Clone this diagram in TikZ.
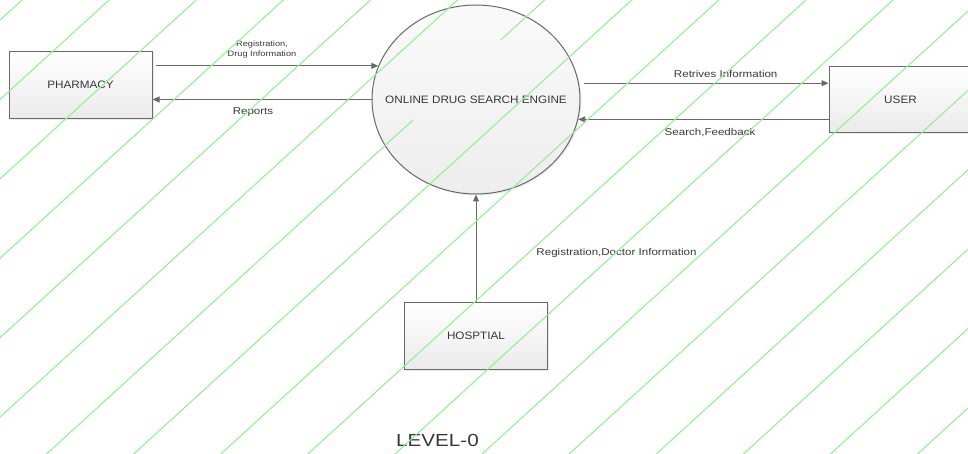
\documentclass[tikz,border=0pt]{standalone}
\usepackage{fontspec}
\setmainfont{Liberation Sans}[FakeStretch=1.18]
\newfontfamily\boxfont{Liberation Sans}[FakeStretch=1.09]
\usetikzlibrary{arrows.meta,shapes.geometric,shadows}
\definecolor{hatch}{RGB}{150,238,150}
\definecolor{edge}{RGB}{105,105,105}
\definecolor{txt}{RGB}{55,55,55}
\begin{document}
\begin{tikzpicture}[x=1pt,y=-1pt,
  entity/.style={draw=edge, line width=1pt, top color=white, bottom color=black!8,
    minimum width=143pt, minimum height=66.7pt, inner sep=0pt,
    font=\boxfont\fontsize{10.75}{12}\selectfont, text=txt,
    drop shadow={shadow xshift=1.5pt, shadow yshift=-1.5pt, fill=black!15}},
  process/.style={ellipse, draw=edge, line width=1pt, top color=black!2, bottom color=black!7,
    minimum width=208pt, minimum height=189pt, inner sep=0pt,
    drop shadow={shadow xshift=1.5pt, shadow yshift=-1.5pt, fill=black!15}},
  boxtext/.style={font=\boxfont\fontsize{10.75}{12}\selectfont, text=txt, inner sep=0pt},
  flowlabel/.style={font=\fontsize{9.8}{11}\selectfont, text=txt, inner sep=0pt},
  smalllabel/.style={font=\fontsize{7.8}{10}\selectfont, text=txt, inner sep=0pt, align=center},
  flow/.style={draw=edge, line width=1pt, -{Triangle[length=7pt,width=6pt]}},
  hatchline/.style={draw=hatch, line width=1.1pt}]
\useasboundingbox (0,0) rectangle (968,454);
\begin{scope}
\clip (0,0) rectangle (968,454);
% nodes
\node[entity] (pharm) at (80.5,85) {PHARMACY};
\node[entity] (user) at (900.5,99.4) {USER};
\node[entity] (hosp) at (476,336) {HOSPTIAL};
\node[process] (circ) at (476,99.5) {};
\node[boxtext] (circtext) at (circ.center) {ONLINE DRUG SEARCH ENGINE};
% connectors
\coordinate (pstart) at ([xshift=3pt]pharm.east);
\draw[flow] (pstart |- circ.161) -- (circ.161);
\draw[flow] (circ.west) -- (pharm.east |- circ.west);
\coordinate (ustart) at ([xshift=5pt]circ.9.5);
\draw[flow] (ustart) -- (user.west |- ustart);
\draw[flow] (user.west |- circ.349) -- (circ.349);
\draw[flow] (hosp.north) -- (circ.south);
% labels
\node[smalllabel] (lregdrug) at (262,49.3) {Registration,\\Drug Information};
\node[flowlabel] (lreports) at (253,112.5) {Reports};
\node[flowlabel] (lretr) at (725.7,74) {Retrives Information};
\node[flowlabel] (lsearch) at (710,133) {Search,Feedback};
\node[flowlabel] (lregdoc) at (616.5,252.7) {Registration,Doctor Information};
\node[font=\fontsize{17.5}{20}\selectfont, text=txt, inner sep=0pt] (level) at (437.5,440.5) {LEVEL-0};
% background hatch lines (drawn over everything)
\foreach \k in {0,1,2,3,4,5,7,8,9,10,11,12,13,14,15,16,17} {
  \draw[hatchline] ({22+87.1*\k+11},-10) -- ({22+87.1*\k-509},464);
}
\draw[hatchline] (555.6,-10) -- (500.7,40);
\draw[hatchline] (413,120) -- (35.6,464);
\end{scope}
\end{tikzpicture}
\end{document}
